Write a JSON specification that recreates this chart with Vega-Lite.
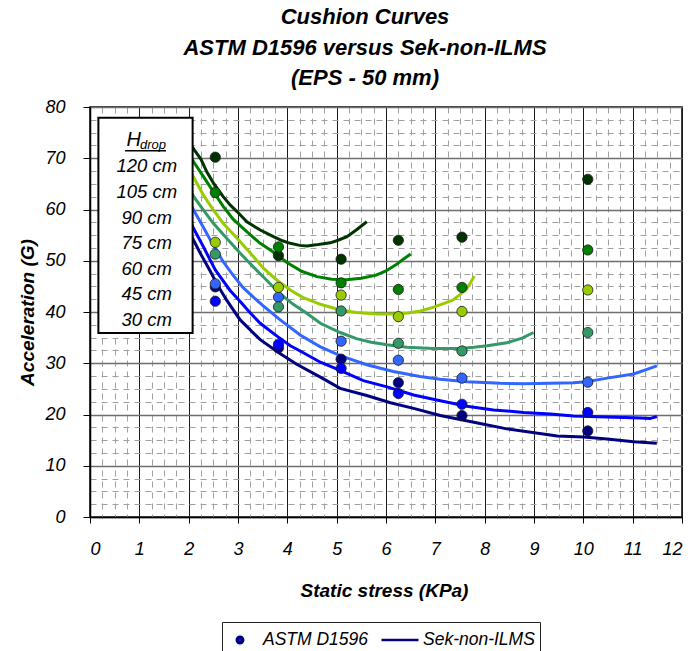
{
  "$schema": "https://vega.github.io/schema/vega-lite/v6.json",
  "width": 592,
  "height": 410,
  "autosize": {"type": "none"},
  "padding": {"left": 90, "top": 107, "right": 9, "bottom": 134},
  "background": "white",
  "title": {
    "text": ["Cushion Curves", "ASTM D1596 versus Sek-non-ILMS", "(EPS - 50 mm)"],
    "font": "'Liberation Sans', Arial, sans-serif",
    "fontSize": 22,
    "fontStyle": "italic",
    "fontWeight": "bold",
    "lineHeight": 30.5,
    "anchor": "middle",
    "dx": -21,
    "offset": 8,
    "color": "black"
  },
  "config": {
    "view": {"stroke": "black", "strokeWidth": 1.5},
    "font": "'Liberation Sans', Arial, sans-serif"
  },
  "resolve": {"axis": {"x": "independent", "y": "independent"}},
  "datasets": {
    "curves": [
      {"drop": 120, "stress": 2.0, "accel": 73.3}, {"drop": 120, "stress": 2.11, "accel": 71.7}, {"drop": 120, "stress": 2.25, "accel": 69.8}, {"drop": 120, "stress": 2.37, "accel": 67.3}, {"drop": 120, "stress": 2.5, "accel": 65.2}, {"drop": 120, "stress": 2.7, "accel": 62.5}, {"drop": 120, "stress": 2.85, "accel": 60.8}, {"drop": 120, "stress": 2.98, "accel": 59.6}, {"drop": 120, "stress": 3.18, "accel": 57.6}, {"drop": 120, "stress": 3.45, "accel": 56.0}, {"drop": 120, "stress": 3.72, "accel": 54.7}, {"drop": 120, "stress": 3.9, "accel": 53.9}, {"drop": 120, "stress": 4.06, "accel": 53.4}, {"drop": 120, "stress": 4.25, "accel": 53.0}, {"drop": 120, "stress": 4.4, "accel": 52.9}, {"drop": 120, "stress": 4.58, "accel": 53.1}, {"drop": 120, "stress": 4.73, "accel": 53.3}, {"drop": 120, "stress": 4.87, "accel": 53.5}, {"drop": 120, "stress": 5.0, "accel": 53.9}, {"drop": 120, "stress": 5.21, "accel": 54.7}, {"drop": 120, "stress": 5.41, "accel": 56.1}, {"drop": 120, "stress": 5.61, "accel": 57.6},
      {"drop": 105, "stress": 2.0, "accel": 71.0}, {"drop": 105, "stress": 2.1, "accel": 69.3}, {"drop": 105, "stress": 2.3, "accel": 66.4}, {"drop": 105, "stress": 2.5, "accel": 63.5}, {"drop": 105, "stress": 2.7, "accel": 60.6}, {"drop": 105, "stress": 2.9, "accel": 58.1}, {"drop": 105, "stress": 3.2, "accel": 55.5}, {"drop": 105, "stress": 3.45, "accel": 53.4}, {"drop": 105, "stress": 3.7, "accel": 51.8}, {"drop": 105, "stress": 4.0, "accel": 49.6}, {"drop": 105, "stress": 4.3, "accel": 47.9}, {"drop": 105, "stress": 4.6, "accel": 46.9}, {"drop": 105, "stress": 4.9, "accel": 46.4}, {"drop": 105, "stress": 5.2, "accel": 46.3}, {"drop": 105, "stress": 5.5, "accel": 46.6}, {"drop": 105, "stress": 5.8, "accel": 47.2}, {"drop": 105, "stress": 6.0, "accel": 48.0}, {"drop": 105, "stress": 6.2, "accel": 49.2}, {"drop": 105, "stress": 6.35, "accel": 50.3}, {"drop": 105, "stress": 6.5, "accel": 51.3},
      {"drop": 90, "stress": 2.0, "accel": 68.0}, {"drop": 90, "stress": 2.11, "accel": 66.1}, {"drop": 90, "stress": 2.3, "accel": 62.8}, {"drop": 90, "stress": 2.5, "accel": 59.9}, {"drop": 90, "stress": 2.7, "accel": 57.3}, {"drop": 90, "stress": 2.98, "accel": 54.4}, {"drop": 90, "stress": 3.25, "accel": 51.5}, {"drop": 90, "stress": 3.52, "accel": 48.5}, {"drop": 90, "stress": 3.79, "accel": 46.2}, {"drop": 90, "stress": 4.06, "accel": 44.3}, {"drop": 90, "stress": 4.3, "accel": 42.9}, {"drop": 90, "stress": 4.67, "accel": 41.5}, {"drop": 90, "stress": 5.07, "accel": 40.4}, {"drop": 90, "stress": 5.4, "accel": 39.9}, {"drop": 90, "stress": 5.8, "accel": 39.6}, {"drop": 90, "stress": 6.15, "accel": 39.6}, {"drop": 90, "stress": 6.45, "accel": 39.8}, {"drop": 90, "stress": 6.7, "accel": 40.2}, {"drop": 90, "stress": 6.95, "accel": 40.9}, {"drop": 90, "stress": 7.15, "accel": 41.6}, {"drop": 90, "stress": 7.35, "accel": 42.3}, {"drop": 90, "stress": 7.5, "accel": 43.4}, {"drop": 90, "stress": 7.64, "accel": 44.6}, {"drop": 90, "stress": 7.72, "accel": 45.8}, {"drop": 90, "stress": 7.79, "accel": 47.0},
      {"drop": 75, "stress": 2.0, "accel": 64.3}, {"drop": 75, "stress": 2.11, "accel": 62.4}, {"drop": 75, "stress": 2.3, "accel": 59.9}, {"drop": 75, "stress": 2.5, "accel": 57.3}, {"drop": 75, "stress": 2.77, "accel": 54.4}, {"drop": 75, "stress": 3.04, "accel": 51.5}, {"drop": 75, "stress": 3.31, "accel": 48.8}, {"drop": 75, "stress": 3.58, "accel": 46.2}, {"drop": 75, "stress": 3.85, "accel": 43.6}, {"drop": 75, "stress": 4.12, "accel": 41.5}, {"drop": 75, "stress": 4.4, "accel": 39.7}, {"drop": 75, "stress": 4.67, "accel": 37.8}, {"drop": 75, "stress": 5.07, "accel": 36.0}, {"drop": 75, "stress": 5.4, "accel": 34.8}, {"drop": 75, "stress": 5.7, "accel": 34.1}, {"drop": 75, "stress": 6.02, "accel": 33.6}, {"drop": 75, "stress": 6.42, "accel": 33.1}, {"drop": 75, "stress": 6.96, "accel": 32.9}, {"drop": 75, "stress": 7.51, "accel": 32.9}, {"drop": 75, "stress": 7.78, "accel": 33.1}, {"drop": 75, "stress": 8.05, "accel": 33.4}, {"drop": 75, "stress": 8.45, "accel": 34.0}, {"drop": 75, "stress": 8.76, "accel": 34.9}, {"drop": 75, "stress": 8.99, "accel": 36.0},
      {"drop": 60, "stress": 2.0, "accel": 61.8}, {"drop": 60, "stress": 2.1, "accel": 59.9}, {"drop": 60, "stress": 2.3, "accel": 56.5}, {"drop": 60, "stress": 2.5, "accel": 53.0}, {"drop": 60, "stress": 2.7, "accel": 49.8}, {"drop": 60, "stress": 2.9, "accel": 47.2}, {"drop": 60, "stress": 3.1, "accel": 44.8}, {"drop": 60, "stress": 3.3, "accel": 43.0}, {"drop": 60, "stress": 3.5, "accel": 41.3}, {"drop": 60, "stress": 3.85, "accel": 38.5}, {"drop": 60, "stress": 4.26, "accel": 35.5}, {"drop": 60, "stress": 4.67, "accel": 33.2}, {"drop": 60, "stress": 5.07, "accel": 31.5}, {"drop": 60, "stress": 5.61, "accel": 29.7}, {"drop": 60, "stress": 6.15, "accel": 28.4}, {"drop": 60, "stress": 6.69, "accel": 27.4}, {"drop": 60, "stress": 7.1, "accel": 26.9}, {"drop": 60, "stress": 7.64, "accel": 26.4}, {"drop": 60, "stress": 8.32, "accel": 26.1}, {"drop": 60, "stress": 8.79, "accel": 26.0}, {"drop": 60, "stress": 9.33, "accel": 26.1}, {"drop": 60, "stress": 9.8, "accel": 26.2}, {"drop": 60, "stress": 10.07, "accel": 26.4}, {"drop": 60, "stress": 10.48, "accel": 27.1}, {"drop": 60, "stress": 11.02, "accel": 27.9}, {"drop": 60, "stress": 11.29, "accel": 28.8}, {"drop": 60, "stress": 11.49, "accel": 29.5},
      {"drop": 45, "stress": 2.0, "accel": 58.3}, {"drop": 45, "stress": 2.1, "accel": 56.3}, {"drop": 45, "stress": 2.3, "accel": 52.7}, {"drop": 45, "stress": 2.54, "accel": 48.2}, {"drop": 45, "stress": 2.84, "accel": 44.2}, {"drop": 45, "stress": 3.04, "accel": 42.1}, {"drop": 45, "stress": 3.25, "accel": 39.8}, {"drop": 45, "stress": 3.45, "accel": 37.8}, {"drop": 45, "stress": 3.79, "accel": 35.3}, {"drop": 45, "stress": 4.06, "accel": 33.4}, {"drop": 45, "stress": 4.26, "accel": 32.4}, {"drop": 45, "stress": 4.67, "accel": 30.2}, {"drop": 45, "stress": 5.07, "accel": 28.6}, {"drop": 45, "stress": 5.54, "accel": 26.6}, {"drop": 45, "stress": 6.02, "accel": 25.4}, {"drop": 45, "stress": 6.56, "accel": 23.8}, {"drop": 45, "stress": 7.1, "accel": 22.7}, {"drop": 45, "stress": 7.64, "accel": 21.6}, {"drop": 45, "stress": 8.18, "accel": 20.9}, {"drop": 45, "stress": 8.79, "accel": 20.4}, {"drop": 45, "stress": 9.33, "accel": 20.1}, {"drop": 45, "stress": 9.8, "accel": 19.7}, {"drop": 45, "stress": 10.48, "accel": 19.5}, {"drop": 45, "stress": 11.16, "accel": 19.3}, {"drop": 45, "stress": 11.35, "accel": 19.2}, {"drop": 45, "stress": 11.49, "accel": 19.6},
      {"drop": 30, "stress": 2.0, "accel": 56.0}, {"drop": 30, "stress": 2.1, "accel": 54.0}, {"drop": 30, "stress": 2.25, "accel": 51.2}, {"drop": 30, "stress": 2.43, "accel": 48.1}, {"drop": 30, "stress": 2.6, "accel": 45.0}, {"drop": 30, "stress": 2.77, "accel": 42.3}, {"drop": 30, "stress": 3.04, "accel": 38.5}, {"drop": 30, "stress": 3.45, "accel": 34.6}, {"drop": 30, "stress": 3.85, "accel": 31.9}, {"drop": 30, "stress": 4.19, "accel": 29.8}, {"drop": 30, "stress": 4.67, "accel": 27.3}, {"drop": 30, "stress": 5.07, "accel": 25.1}, {"drop": 30, "stress": 5.61, "accel": 23.7}, {"drop": 30, "stress": 6.09, "accel": 22.3}, {"drop": 30, "stress": 6.56, "accel": 21.2}, {"drop": 30, "stress": 7.1, "accel": 19.8}, {"drop": 30, "stress": 7.78, "accel": 18.5}, {"drop": 30, "stress": 8.45, "accel": 17.2}, {"drop": 30, "stress": 9.47, "accel": 15.8}, {"drop": 30, "stress": 10.01, "accel": 15.6}, {"drop": 30, "stress": 10.48, "accel": 15.2}, {"drop": 30, "stress": 11.02, "accel": 14.7}, {"drop": 30, "stress": 11.49, "accel": 14.4}
    ],
    "tests": [
      {"drop": 30, "stress": 2.54, "accel": 44.9}, {"drop": 30, "stress": 3.82, "accel": 33.0}, {"drop": 30, "stress": 5.09, "accel": 30.8}, {"drop": 30, "stress": 6.25, "accel": 26.2}, {"drop": 30, "stress": 7.54, "accel": 19.8}, {"drop": 30, "stress": 10.09, "accel": 16.8},
      {"drop": 45, "stress": 2.54, "accel": 42.1}, {"drop": 45, "stress": 3.82, "accel": 33.7}, {"drop": 45, "stress": 5.09, "accel": 29.0}, {"drop": 45, "stress": 6.25, "accel": 24.1}, {"drop": 45, "stress": 7.54, "accel": 22.0}, {"drop": 45, "stress": 10.09, "accel": 20.4},
      {"drop": 60, "stress": 2.54, "accel": 45.5}, {"drop": 60, "stress": 3.82, "accel": 42.9}, {"drop": 60, "stress": 5.09, "accel": 34.3}, {"drop": 60, "stress": 6.25, "accel": 30.6}, {"drop": 60, "stress": 7.54, "accel": 27.1}, {"drop": 60, "stress": 10.09, "accel": 26.3},
      {"drop": 75, "stress": 2.54, "accel": 51.3}, {"drop": 75, "stress": 3.82, "accel": 41.0}, {"drop": 75, "stress": 5.09, "accel": 40.2}, {"drop": 75, "stress": 6.25, "accel": 33.9}, {"drop": 75, "stress": 7.54, "accel": 32.4}, {"drop": 75, "stress": 10.09, "accel": 36.0},
      {"drop": 90, "stress": 2.54, "accel": 53.6}, {"drop": 90, "stress": 3.82, "accel": 44.8}, {"drop": 90, "stress": 5.09, "accel": 43.3}, {"drop": 90, "stress": 6.25, "accel": 39.1}, {"drop": 90, "stress": 7.54, "accel": 40.1}, {"drop": 90, "stress": 10.09, "accel": 44.3},
      {"drop": 120, "stress": 2.54, "accel": 70.2}, {"drop": 120, "stress": 3.82, "accel": 51.0}, {"drop": 120, "stress": 5.09, "accel": 50.3}, {"drop": 120, "stress": 6.25, "accel": 54.0}, {"drop": 120, "stress": 7.54, "accel": 54.6}, {"drop": 120, "stress": 10.09, "accel": 65.9},
      {"drop": 105, "stress": 2.54, "accel": 63.3}, {"drop": 105, "stress": 3.82, "accel": 52.7}, {"drop": 105, "stress": 5.09, "accel": 45.7}, {"drop": 105, "stress": 6.25, "accel": 44.4}, {"drop": 105, "stress": 7.54, "accel": 44.8}, {"drop": 105, "stress": 10.09, "accel": 52.1}
    ],
    "methods": [
      {"method": "ASTM D1596"},
      {"method": "Sek-non-ILMS"}
    ]
  },
  "layer": [
    {
      "encoding": {
        "x": {
          "field": "stress", "type": "quantitative", "title": "Static stress (KPa)",
          "scale": {"domain": [0, 12], "nice": false},
          "axis": {
            "values": [0, 0.25, 0.5, 0.75, 1, 1.25, 1.5, 1.75, 2, 2.25, 2.5, 2.75, 3, 3.25, 3.5, 3.75, 4, 4.25, 4.5, 4.75, 5, 5.25, 5.5, 5.75, 6, 6.25, 6.5, 6.75, 7, 7.25, 7.5, 7.75, 8, 8.25, 8.5, 8.75, 9, 9.25, 9.5, 9.75, 10, 10.25, 10.5, 10.75, 11, 11.25, 11.5, 11.75, 12],
            "labelExpr": "datum.value % 1 === 0 ? format(datum.value, 'd') : ''",
            "labelOverlap": false,
            "labelFontSize": 18, "labelFontStyle": "italic", "labelColor": "black", "labelPadding": 17,
            "grid": true,
            "gridColor": {"condition": {"test": "datum.value % 1 === 0", "value": "#1a1a1a"}, "value": "#a0a0a0"},
            "gridDash": {"condition": {"test": "datum.value % 1 === 0", "value": []}, "value": [6, 5]},
            "gridWidth": 1,
            "tickColor": "black", "tickSize": 6,
            "tickOpacity": {"condition": {"test": "datum.value % 1 === 0", "value": 1}, "value": 0},
            "domainColor": "black", "domainWidth": 1.5,
            "titleFontSize": 19, "titleFontStyle": "italic", "titleFontWeight": "bold", "titleColor": "black",
            "titleX": 294, "titleY": 73, "titleBaseline": "middle", "titleAlign": "center"
          }
        },
        "y": {
          "field": "accel", "type": "quantitative", "title": "Acceleration (G)",
          "scale": {"domain": [0, 80], "nice": false},
          "axis": {
            "values": [0, 2.5, 5, 7.5, 10, 12.5, 15, 17.5, 20, 22.5, 25, 27.5, 30, 32.5, 35, 37.5, 40, 42.5, 45, 47.5, 50, 52.5, 55, 57.5, 60, 62.5, 65, 67.5, 70, 72.5, 75, 77.5, 80],
            "labelExpr": "datum.value % 10 === 0 ? datum.label : ''",
            "labelOverlap": false,
            "labelFontSize": 18, "labelFontStyle": "italic", "labelColor": "black", "labelPadding": 18,
            "grid": true,
            "gridColor": {"condition": {"test": "datum.value % 10 === 0", "value": "#6e6e6e"}, "value": "#a0a0a0"},
            "gridDash": {"condition": {"test": "datum.value % 10 === 0", "value": []}, "value": [6, 5]},
            "gridWidth": {"condition": {"test": "datum.value % 10 === 0", "value": 1.5}, "value": 1},
            "tickColor": "black", "tickSize": 7,
            "tickOpacity": {"condition": {"test": "datum.value % 10 === 0", "value": 1}, "value": 0},
            "domainColor": "black", "domainWidth": 1.5,
            "titleFontSize": 19, "titleFontStyle": "italic", "titleFontWeight": "bold", "titleColor": "black",
            "titleX": -63, "titleY": 205, "titleBaseline": "middle", "titleAlign": "center", "titleAngle": 270
          }
        }
      },
      "layer": [
        {
          "data": {"name": "curves"},
          "mark": {"type": "line", "strokeWidth": 3, "clip": true},
          "encoding": {
            "color": {
              "field": "drop", "type": "nominal",
              "scale": {"domain": [120, 105, 90, 75, 60, 45, 30], "range": ["#003300", "#008000", "#99cc00", "#339966", "#3366ff", "#0000ff", "#000080"]},
              "legend": null
            }
          }
        },
        {
          "data": {"name": "tests"},
          "mark": {"type": "point", "filled": true, "size": 105, "stroke": "#1a1a1a", "strokeWidth": 0.8, "opacity": 1},
          "encoding": {
            "fill": {
              "field": "drop", "type": "nominal",
              "scale": {"domain": [120, 105, 90, 75, 60, 45, 30], "range": ["#003300", "#008000", "#99cc00", "#339966", "#3366ff", "#0000ff", "#000080"]},
              "legend": null
            }
          }
        }
      ]
    },
    {
      "data": {"name": "methods"},
      "mark": {"type": "point", "filled": false, "color": "#000080", "strokeWidth": 2.5, "size": 600, "clip": true},
      "encoding": {
        "x": {"datum": -5, "axis": null},
        "y": {"datum": -5, "axis": null},
        "shape": {
          "field": "method", "type": "nominal",
          "scale": {
            "domain": ["ASTM D1596", "Sek-non-ILMS"],
            "range": [
              "M-0.265,0A0.265,0.265,0,1,0,0.265,0A0.265,0.265,0,1,0,-0.265,0Z M-0.163,0A0.163,0.163,0,1,0,0.163,0A0.163,0.163,0,1,0,-0.163,0Z M-0.065,0A0.065,0.065,0,1,0,0.065,0A0.065,0.065,0,1,0,-0.065,0Z",
              "M-1.51,0L1.51,0"
            ]
          },
          "legend": {
            "title": null, "orient": "none", "legendX": 132, "legendY": 515, "direction": "horizontal",
            "fillColor": "white", "strokeColor": "#222222", "padding": 4.5,
            "labelFontSize": 17.5, "labelFontStyle": "italic", "labelColor": "black", "labelOffset": 9.5,
            "symbolSize": 600, "symbolStrokeWidth": 2.5, "symbolStrokeColor": "#000080", "symbolOpacity": 1,
            "columnPadding": 8
          }
        }
      }
    },
    {
      "data": {"values": [{}]},
      "mark": {"type": "rect", "fill": "white", "stroke": "black", "strokeWidth": 2},
      "encoding": {
        "x": {"datum": 0.17, "axis": null}, "x2": {"datum": 2.08},
        "y": {"datum": 77.9, "axis": null}, "y2": {"datum": 35.9}
      }
    },
    {
      "data": {"values": [{}]},
      "mark": {"type": "text", "fontSize": 18.5, "fontStyle": "italic", "align": "center", "baseline": "middle", "lineHeight": 25.55, "color": "black"},
      "encoding": {
        "x": {"datum": 1.15, "axis": null}, "y": {"datum": 68.4, "axis": null},
        "text": {"value": ["120 cm", "105 cm", "90 cm", "75 cm", "60 cm", "45 cm", "30 cm"]}
      }
    },
    {
      "data": {"values": [{}]},
      "mark": {"type": "text", "fontSize": 20, "fontStyle": "italic", "align": "center", "baseline": "alphabetic", "color": "black"},
      "encoding": {"x": {"datum": 0.886, "axis": null}, "y": {"datum": 72.4, "axis": null}, "text": {"value": "H"}}
    },
    {
      "data": {"values": [{}]},
      "mark": {"type": "text", "fontSize": 13, "fontStyle": "italic", "align": "left", "baseline": "alphabetic", "color": "black"},
      "encoding": {"x": {"datum": 1.014, "axis": null}, "y": {"datum": 71.9, "axis": null}, "text": {"value": "drop"}}
    },
    {
      "data": {"values": [{}]},
      "mark": {"type": "rule", "stroke": "black", "strokeWidth": 1.5},
      "encoding": {"x": {"datum": 0.71, "axis": null}, "x2": {"datum": 1.54}, "y": {"datum": 71.45, "axis": null}}
    }
  ]
}
